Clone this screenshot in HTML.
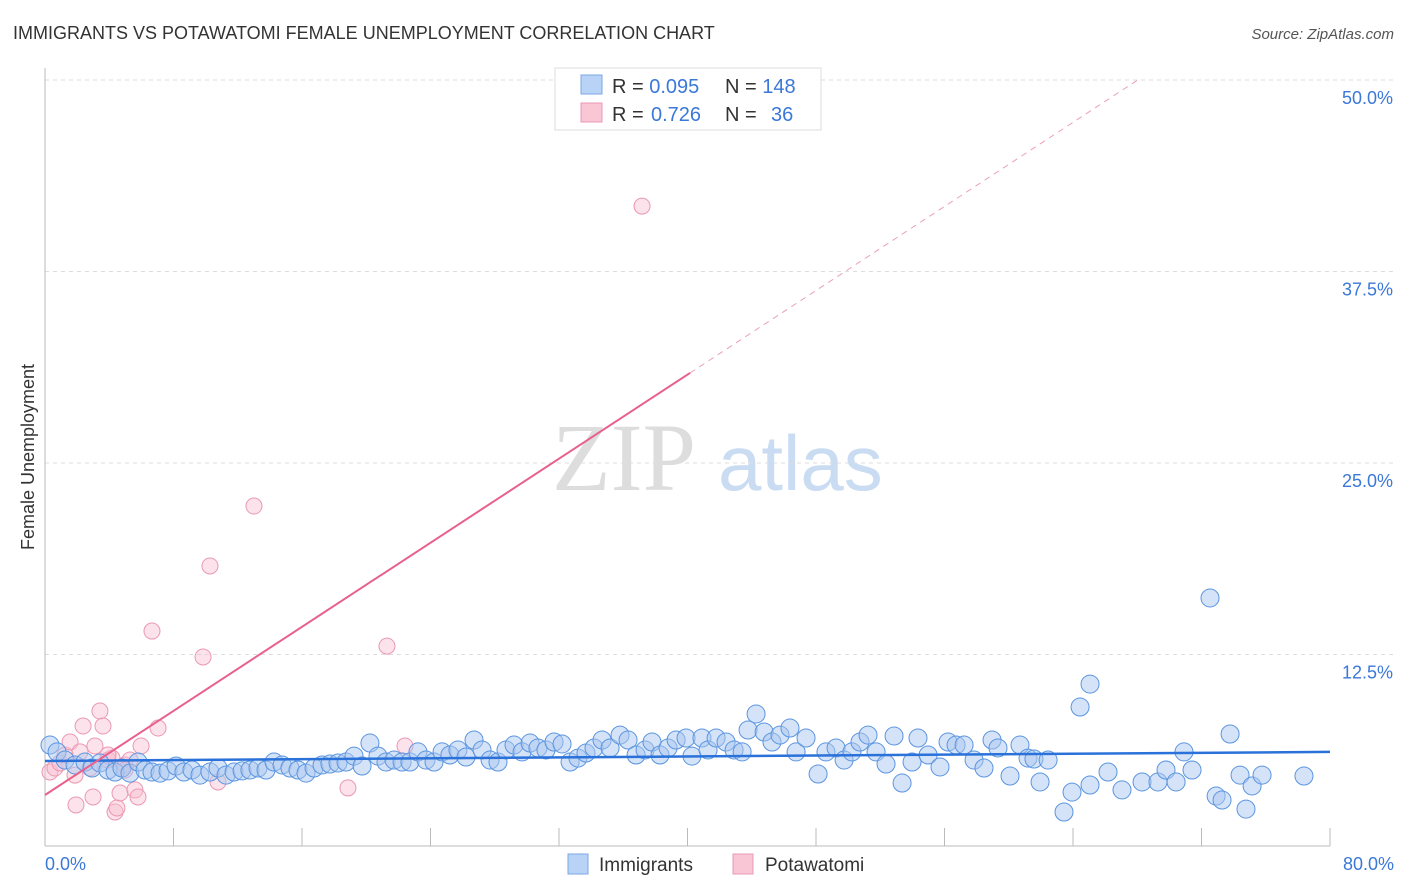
<!DOCTYPE html>
<html><head><meta charset="utf-8"><style>
body{margin:0;background:#fff;font-family:"Liberation Sans",sans-serif;}
svg{display:block}
</style></head><body>
<svg id="chart" width="1406" height="892">
<text x="13" y="39" font-size="18" fill="#333">IMMIGRANTS VS POTAWATOMI FEMALE UNEMPLOYMENT CORRELATION CHART</text>
<text x="1394" y="39" font-size="15" fill="#555" font-style="italic" text-anchor="end">Source: ZipAtlas.com</text>
<g>
<text x="552" y="490" font-size="96" fill="#ddd" font-family="Liberation Serif,serif">ZIP</text>
<text x="718" y="490" font-size="78" fill="#c9dcf2">atlas</text>
</g>
<g id="grid"></g>
<g id="axes"></g>
<g id="marks"></g>
<text transform="translate(34,457) rotate(-90)" font-size="18" fill="#333" text-anchor="middle">Female Unemployment</text>
<text x="45" y="870" font-size="18" fill="#3b78d8">0.0%</text>
<text x="1394" y="870" font-size="18" fill="#3b78d8" text-anchor="end">80.0%</text>
<g>
<rect x="555" y="68" width="266" height="62" fill="#fff" stroke="#ddd"/>
<rect x="581" y="75" width="21" height="19" fill="#b8d3f5" stroke="#7aa7e6"/>
<rect x="581" y="103" width="21" height="19" fill="#f9c6d5" stroke="#eb98b3"/>
<text x="612" y="93" font-size="20" fill="#333">R = <tspan fill="#3b78d8">0.095</tspan><tspan x="725">N = </tspan><tspan fill="#3b78d8">148</tspan></text>
<text x="612" y="121" font-size="20" fill="#333">R = <tspan fill="#3b78d8" x="651">0.726</tspan><tspan x="725">N = </tspan><tspan fill="#3b78d8" x="771">36</tspan></text>
</g>
<g>
<rect x="568" y="854" width="20" height="20" fill="#b8d3f5" stroke="#7aa7e6"/>
<text x="599" y="871" font-size="19" fill="#333">Immigrants</text>
<rect x="733" y="854" width="20" height="20" fill="#f9c6d5" stroke="#eb98b3"/>
<text x="765" y="871" font-size="19" fill="#333">Potawatomi</text>
</g>
</svg>
<script>
const yTicks=[12.5,25,37.5,50];
const yTickLabels=["12.5%","25.0%","37.5%","50.0%"];
const xTicks=[0,8,16,24,32,40,48,56,64,72,80];
const blueX=[.31,.75,1.25,1.87,2.49,2.93,3.42,3.92,4.36,4.79,5.29,5.79,6.23,6.66,7.16,7.66,8.16,8.65,9.15,9.65,10.27,10.77,11.27,11.77,12.27,12.76,13.26,13.76,14.26,14.76,15.25,15.75,16.25,16.75,17.25,17.74,18.24,18.74,19.24,19.74,20.23,20.73,21.23,21.73,22.23,22.72,23.22,23.72,24.22,24.72,25.21,25.71,26.21,26.71,27.21,27.71,28.2,28.7,29.2,29.7,30.2,30.69,31.19,31.69,32.19,32.69,33.18,33.68,34.18,34.68,35.18,35.8,36.3,36.8,37.36,37.79,38.29,38.79,39.29,39.91,40.28,40.9,41.28,41.78,42.4,42.9,43.4,43.77,44.27,44.77,45.26,45.76,46.38,46.76,47.38,48.13,48.62,49.25,49.75,50.24,50.74,51.24,51.74,52.36,52.86,53.36,53.98,54.35,54.98,55.72,56.22,56.72,57.22,57.84,58.46,58.96,59.33,60.08,60.7,61.2,61.57,61.95,62.45,63.44,63.94,64.44,65.06,65.06,66.18,67.05,68.3,69.29,69.79,70.42,70.91,71.41,72.53,72.91,73.28,73.78,74.4,74.77,75.15,75.77,78.38];
const blueY=[6.59,6.14,5.61,5.29,5.48,5.09,5.42,4.96,4.83,5.09,4.76,5.48,4.96,4.83,4.76,4.9,5.22,4.83,4.96,4.63,4.83,5.09,4.63,4.83,4.9,4.96,5.09,4.96,5.48,5.29,5.09,4.96,4.76,5.09,5.29,5.35,5.42,5.48,5.87,5.22,6.72,5.87,5.48,5.61,5.48,5.48,6.14,5.61,5.48,6.14,5.94,6.27,5.81,6.92,6.27,5.61,5.48,6.27,6.59,6.14,6.72,6.4,6.27,6.79,6.66,5.48,5.74,6.07,6.4,6.92,6.4,7.24,6.92,5.94,6.27,6.79,5.94,6.4,6.92,7.05,5.87,7.05,6.27,7.05,6.79,6.27,6.14,7.57,8.62,7.44,6.79,7.24,7.7,6.14,7.05,4.7,6.14,6.4,5.61,6.14,6.79,7.24,6.14,5.35,7.18,4.11,5.48,7.05,5.94,5.16,6.79,6.59,6.59,5.61,5.09,6.92,6.4,4.57,6.59,5.74,5.68,4.18,5.61,2.22,3.52,9.07,10.57,3.98,4.83,3.66,4.18,4.18,4.96,4.18,6.14,4.96,16.19,3.26,3.0,7.31,4.63,2.41,3.92,4.63,4.57];
const pinkX=[.31,.62,.93,1.25,1.56,1.87,2.18,2.37,2.8,2.99,3.11,3.42,3.61,3.92,4.17,4.36,4.48,4.67,4.98,5.29,5.6,5.79,5.98,6.66,7.04,9.84,10.27,10.77,13.01,18.86,21.29,22.41,37.17,1.93,4.98,3.92];
const pinkY=[4.83,5.09,5.42,5.94,6.79,4.63,6.14,7.83,5.09,3.2,6.53,8.81,7.83,5.61,5.74,2.22,2.48,3.46,5.29,5.61,3.66,3.2,6.53,14.03,7.7,12.34,18.28,4.18,22.19,3.79,13.05,6.53,41.77,2.68,4.96,5.94];
const blueTrend=[5.55,6.14];
const pinkTrend=[3.33,0.686];
const NS="http://www.w3.org/2000/svg";
const X0=45,X1=1330,Y0=846,Y50=80;
const sx=v=>X0+(X1-X0)*v/80;
const sy=v=>Y0-(Y0-Y50)*v/50;
function mk(tag,attrs,parent){const e=document.createElementNS(NS,tag);for(const k in attrs)e.setAttribute(k,attrs[k]);parent.appendChild(e);return e;}
const grid=document.getElementById('grid'),axes=document.getElementById('axes'),marks=document.getElementById('marks');
yTicks.forEach((t,i)=>{
 const l=mk('line',{x1:X0,x2:1394,y1:sy(t),y2:sy(t),stroke:'#ddd','stroke-dasharray':'4,4'},grid);
 
 
 const tx=mk('text',{x:1393,y:sy(t)+24,'font-size':18,fill:'#3b78d8','text-anchor':'end'},grid);
 tx.textContent=yTickLabels[i];
 
 
});
const ya=mk('line',{x1:X0,x2:X0,y1:68,y2:Y0,stroke:'#bbb'},axes);


const xa=mk('line',{x1:X0,x2:X1,y1:Y0,y2:Y0,stroke:'#bbb'},axes);


xTicks.forEach(t=>{
 const l=mk('line',{x1:sx(t),x2:sx(t),y1:828,y2:Y0,stroke:'#bbb'},axes);
 
 
});
pinkX.forEach((x,i)=>{
 const c=mk('circle',{cx:sx(x),cy:sy(pinkY[i]),r:8,fill:'rgba(249,190,208,0.45)',stroke:'#eb98b3','stroke-width':1},marks);
 
 
});
blueX.forEach((x,i)=>{
 const c=mk('circle',{cx:sx(x),cy:sy(blueY[i]),r:9,fill:'rgba(170,200,240,0.5)',stroke:'#5b95e0','stroke-width':1},marks);
 
 
});
const bt=mk('line',{x1:sx(0),y1:sy(blueTrend[0]),x2:sx(80),y2:sy(blueTrend[1]),stroke:'#2a72d9','stroke-width':2.5},marks);


const pe=40.16,pEnd=(50-pinkTrend[0])/pinkTrend[1];
const pt=mk('line',{x1:sx(0),y1:sy(pinkTrend[0]),x2:sx(pe),y2:sy(pinkTrend[0]+pinkTrend[1]*pe),stroke:'#e8608c','stroke-width':2},marks);


const pd=mk('line',{x1:sx(pe),y1:sy(pinkTrend[0]+pinkTrend[1]*pe),x2:sx(pEnd),y2:sy(50),stroke:'#eba0b8','stroke-width':1,'stroke-dasharray':'6,5'},marks);


</script>
</body></html>
